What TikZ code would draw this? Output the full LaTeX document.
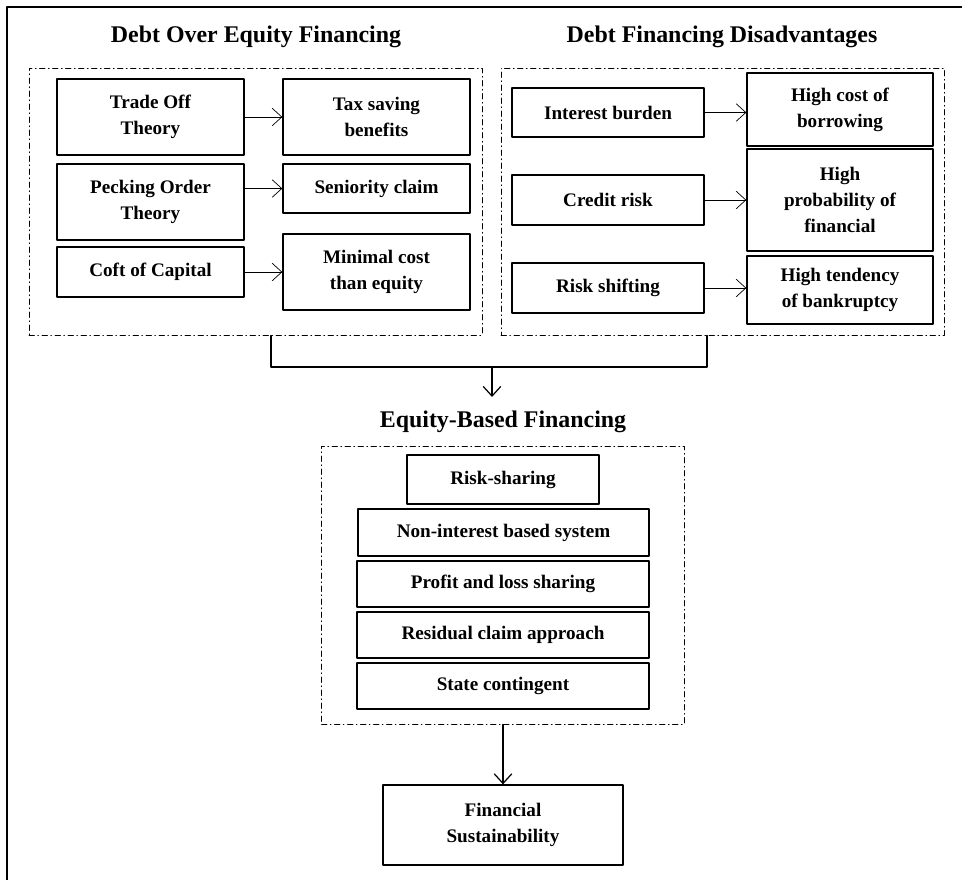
\documentclass[tikz,border=0pt]{standalone}
\usepackage{fontspec}
\setmainfont{Liberation Serif}
\usetikzlibrary{calc,arrows.meta}
\tikzset{
  box/.style={draw, line width=0.75pt, align=center, inner sep=0pt,
    font=\bfseries\fontsize{10.9}{14.8}\selectfont},
  grp/.style={draw, dash dot, line width=0.55pt, inner sep=0pt},
  head/.style={font=\bfseries\fontsize{13.6}{16}\selectfont},
}
\begin{document}
\begin{tikzpicture}[x=0.02cm, y=-0.02cm, line cap=round, line join=round,
    >={Straight Barb[length=5.5pt,width=10pt]}]
  \useasboundingbox (0,0) rectangle (962,879);
  % outer frame (cut off at right and bottom)
  \draw[line width=1.3pt] (7,900) -- (7,7) -- (990,7);
  % headings
  \node[head] (debttitle) at (256,37) {Debt Over Equity Financing};
  \node[head] (distitle) at (722,37) {Debt Financing Disadvantages};
  \node[head] (eqtitle) at (503,422) {Equity-Based Financing};
  % dashed groups
  \node[grp, minimum width=453*0.02cm, minimum height=267*0.02cm] (leftgrp) at (255.5,201.5) {};
  \node[grp, minimum width=443*0.02cm, minimum height=267*0.02cm] (rightgrp) at (722.5,201.5) {};
  \node[grp, minimum width=363*0.02cm, minimum height=278*0.02cm] (eqgrp) at (503,585) {};
  % left group
  \node[box, minimum width=187*0.02cm, minimum height=76*0.02cm] (tradeoff) at (150.5,117) {Trade Off\\Theory};
  \node[box, minimum width=187*0.02cm, minimum height=76*0.02cm] (taxsave) at (376.5,117) {Tax saving\\benefits};
  \node[box, minimum width=187*0.02cm, minimum height=76*0.02cm] (pecking) at (150.5,202) {Pecking Order\\Theory};
  \node[box, minimum width=187*0.02cm, minimum height=49*0.02cm] (seniority) at (376.5,188.5) {Seniority claim};
  \node[box, minimum width=187*0.02cm, minimum height=50*0.02cm] (coft) at (150.5,272) {Coft of Capital};
  \node[box, minimum width=187*0.02cm, minimum height=76*0.02cm] (minimal) at (376.5,272) {Minimal cost\\than equity};
  \draw[->] (tradeoff) -- (taxsave);
  \draw[->] (pecking.east |- seniority.west) -- (seniority.west);
  \draw[->] (coft) -- (minimal);
  % right group
  \node[box, minimum width=192*0.02cm, minimum height=49*0.02cm] (interest) at (608,112.5) {Interest burden};
  \node[box, minimum width=186*0.02cm, minimum height=73*0.02cm] (highcost) at (840,109.5) {High cost of\\borrowing};
  \node[box, minimum width=192*0.02cm, minimum height=50*0.02cm] (credit) at (608,200) {Credit risk};
  \node[box, minimum width=186*0.02cm, minimum height=102*0.02cm] (highprob) at (840,200) {High\\probability of\\financial};
  \node[box, minimum width=192*0.02cm, minimum height=50*0.02cm] (riskshift) at (608,288) {Risk shifting};
  \node[box, minimum width=186*0.02cm, minimum height=68*0.02cm] (tendency) at (840,290) {High tendency\\of bankruptcy};
  \draw[->] (interest.east) -- (interest.east -| highcost.west);
  \draw[->] (credit) -- (highprob);
  \draw[->] (riskshift.east) -- (riskshift.east -| tendency.west);
  % joining line
  \coordinate (join) at (492,367);
  \coordinate (joinend) at (492,397);
  \draw[line width=0.7pt] ($(leftgrp.south)+(15.5,0)$) |- (join) -| ($(rightgrp.south)+(-15.5,0)$);
  \draw[->, line width=0.7pt] (join) -- (joinend);
  % equity group
  \node[box, minimum width=192*0.02cm, minimum height=49*0.02cm] (risksharing) at (503,479.5) {Risk-sharing};
  \node[box, minimum width=291*0.02cm, minimum height=47*0.02cm] (noninterest) at (503.5,532.5) {Non-interest based system};
  \node[box, minimum width=292*0.02cm, minimum height=46*0.02cm] (profit) at (503,584) {Profit and loss sharing};
  \node[box, minimum width=292*0.02cm, minimum height=46*0.02cm] (residual) at (503,635) {Residual claim approach};
  \node[box, minimum width=292*0.02cm, minimum height=46*0.02cm] (state) at (503,686) {State contingent};
  % result
  \node[box, minimum width=240*0.02cm, minimum height=80*0.02cm] (finsus) at (503,825) {Financial\\Sustainability};
  \draw[->, line width=0.7pt] (eqgrp.south) -- (finsus.north);
\end{tikzpicture}
\end{document}
